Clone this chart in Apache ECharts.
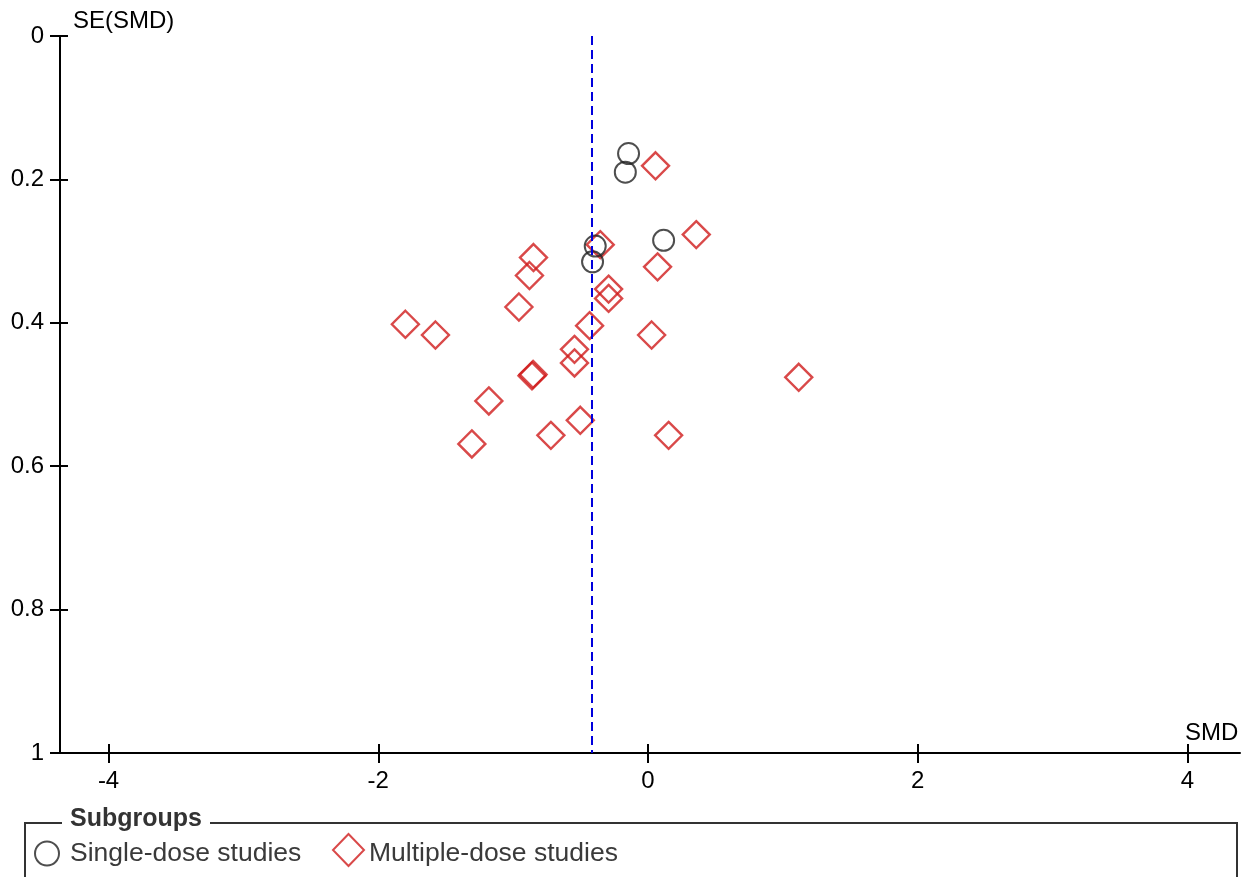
<!DOCTYPE html>
<html>
<head>
<meta charset="utf-8">
<script src="https://cdn.jsdelivr.net/npm/echarts@6/dist/echarts.min.js"></script>
<style>
html,body{margin:0;padding:0;background:#fff;}
#c{width:1242px;height:877px;}
</style>
</head>
<body>
<div id="c"></div>
<script>
// Data
const singleSMD = [-0.144, -0.168, 0.116, -0.391, -0.411];
const singleSE  = [0.164, 0.190, 0.285, 0.293, 0.315];
const multiSMD = [0.056, 0.358, -0.354, -0.849, -0.879, 0.071, -0.292, -0.292, -0.957, -1.799, -1.576, -0.433, 0.027, -0.545, -0.545, -0.860, -0.852, 1.118, -1.180, -0.502, -0.720, 0.153, -1.306];
const multiSE  = [0.181, 0.277, 0.291, 0.309, 0.334, 0.322, 0.353, 0.366, 0.378, 0.402, 0.417, 0.404, 0.417, 0.437, 0.456, 0.474, 0.472, 0.476, 0.509, 0.536, 0.557, 0.557, 0.569];
const pooledSMD = -0.42;
const xTicks = [-4, -2, 0, 2, 4];
const seriesNames = ['Single-dose studies', 'Multiple-dose studies'];
const legendTitle = 'Subgroups';
const xName = 'SMD';
const yName = 'SE(SMD)';

const pairs = (xs, ys) => xs.map((x, i) => [x, ys[i]]);
const font = 'Liberation Sans, Arial, sans-serif';
const GRID = {left: 60, right: 2, top: 36, bottom: 124};
const W = 1242, H = 877;
const plotW = W - GRID.left - GRID.right;
const plotH = H - GRID.top - GRID.bottom;

const chart = echarts.init(document.getElementById('c'), null, {renderer: 'canvas'});
const xAxisBase = {type: 'value', min: -4.36, max: 4.39, splitLine: {show: false}};
const yAxisBase = {type: 'value', min: 0, max: 1, interval: 0.2, inverse: true, splitLine: {show: false}};
const tickStyle = {color: '#000', width: 2};
const hiddenLine = {show: true, onZero: false, lineStyle: {color: 'rgba(0,0,0,0)', width: 1}};
chart.setOption({
  animation: false,
  backgroundColor: '#fff',
  grid: [Object.assign({containLabel: false}, GRID), Object.assign({containLabel: false}, GRID)],
  xAxis: [
    Object.assign({}, xAxisBase, {
      gridIndex: 0, position: 'bottom',
      axisLine: {show: true, onZero: false, lineStyle: {color: '#000', width: 2}},
      axisTick: {show: true, inside: false, length: 10, lineStyle: tickStyle, customValues: xTicks},
      axisLabel: {show: true, margin: 16, color: '#000', fontSize: 24, fontFamily: font, customValues: xTicks}
    }),
    Object.assign({}, xAxisBase, {
      gridIndex: 1, position: 'bottom',
      axisLine: hiddenLine,
      axisTick: {show: true, inside: true, length: 9, lineStyle: tickStyle, customValues: xTicks},
      axisLabel: {show: false}
    })
  ],
  yAxis: [
    Object.assign({}, yAxisBase, {
      gridIndex: 0, position: 'left',
      axisLine: {show: true, onZero: false, lineStyle: {color: '#000', width: 2}},
      axisTick: {show: true, inside: false, length: 10, lineStyle: tickStyle},
      axisLabel: {show: true, margin: 16, color: '#000', fontSize: 24, fontFamily: font}
    }),
    Object.assign({}, yAxisBase, {
      gridIndex: 1, position: 'left',
      axisLine: hiddenLine,
      axisTick: {show: true, inside: true, length: 8, lineStyle: tickStyle},
      axisLabel: {show: false}
    })
  ],
  legend: [
    {
      left: 34, top: 840, padding: 0, itemWidth: 36, itemHeight: 24,
      textStyle: {color: '#3a3a3a', fontSize: 26.5, fontFamily: font},
      data: [seriesNames[0]]
    },
    {
      left: 332, top: 833, padding: 0, itemWidth: 31, itemHeight: 32,
      formatter: '{t|{name}}',
      textStyle: {color: '#3a3a3a', fontSize: 26.5, fontFamily: font,
        rich: {t: {color: '#3a3a3a', fontSize: 26.5, fontFamily: font, padding: [7, 0, 0, 0]}}},
      data: [seriesNames[1]]
    }
  ],
  graphic: [
    {type: 'polyline', shape: {points: [[62, 823], [25, 823], [25, 880]]}, style: {stroke: '#333', lineWidth: 2, fill: null}},
    {type: 'polyline', shape: {points: [[210, 823], [1237, 823], [1237, 880]]}, style: {stroke: '#333', lineWidth: 2, fill: null}},
    {type: 'text', left: 70, top: 807, style: {text: legendTitle, font: 'bold 25px ' + font, fill: '#333'}},
    {type: 'text', left: 73, top: 9, style: {text: yName, font: '24px ' + font, fill: '#000'}},
    {type: 'text', left: 1185, top: 721, style: {text: xName, font: '24px ' + font, fill: '#000'}}
  ],
  series: [
    {
      name: seriesNames[0], type: 'scatter', symbol: 'circle', symbolSize: 21,
      itemStyle: {color: 'rgba(0,0,0,0)', borderColor: '#222', borderWidth: 2},
      data: pairs(singleSMD, singleSE), z: 3
    },
    {
      name: seriesNames[1], type: 'scatter', symbol: 'diamond', symbolSize: 27,
      itemStyle: {color: 'rgba(0,0,0,0)', borderColor: '#d01c1c', borderWidth: 2.4},
      data: pairs(multiSMD, multiSE), z: 2,
      markLine: {
        silent: true, symbol: ['none', 'none'], label: {show: false},
        lineStyle: {color: '#0000dd', width: 2, type: [9, 5]},
        data: [[{coord: [pooledSMD, 0]}, {coord: [pooledSMD, 1]}]]
      }
    },
    {
      name: 'tickHelper', type: 'scatter', xAxisIndex: 1, yAxisIndex: 1, silent: true,
      symbolSize: 0, itemStyle: {opacity: 0},
      data: pairs(multiSMD, multiSE)
    }
  ]
});
</script>
</body>
</html>
